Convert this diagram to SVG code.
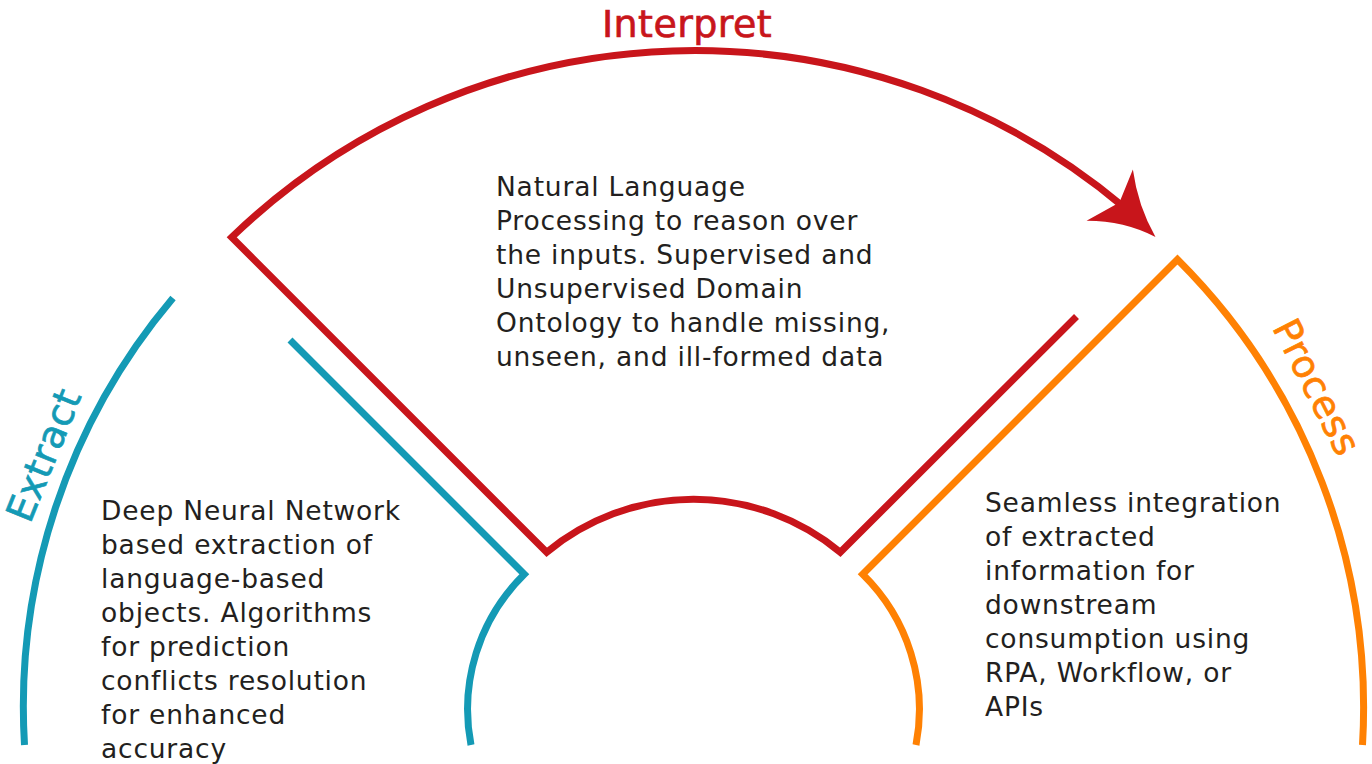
<svg xmlns="http://www.w3.org/2000/svg" width="1372" height="764" viewBox="0 0 1372 764">
<style>
.ln{fill:none;stroke-width:7;stroke-linejoin:miter;stroke-miterlimit:10}
.red{stroke:#C8151B}
.blue{stroke:#149AB5}
.orange{stroke:#FF8103}
.body{font-family:"DejaVu Sans","Noto Sans",sans-serif;font-size:26.5px;letter-spacing:0.8px;fill:#231F20}
.title{font-family:"DejaVu Sans","Noto Sans",sans-serif;font-size:38px;letter-spacing:0.4px;stroke-width:0.7px}
</style>
<rect width="1372" height="764" fill="#ffffff"/>
<g id="connectors">
  <path class="ln red" d="M1076.5,316.5 L840.3,552.3 A230,230 0 0 0 546.7,552.3 L231.7,237.3 A667,667 0 0 1 1125,208"/>
  <path fill="#C8151B" transform="translate(1155.5,237) rotate(43.8)" d="M0,0 Q-34,-10 -63,-33 L-50,0 L-61,36 Q-34,10 0,0 Z"/>
  <path class="ln blue" d="M24.5,745 A633.5,633.5 0 0 1 173,298"/>
  <path class="ln blue" d="M290,340 L524.3,574.3 A189,189 0 0 0 471,745"/>
  <path class="ln orange" d="M916,745 A189,189 0 0 0 862.7,574.3 L1177.5,259.5 A633.5,633.5 0 0 1 1362.5,745"/>
</g>
<g id="interpret">
  <text class="title" x="687" y="37" text-anchor="middle" fill="#C8151B" stroke="#C8151B">Interpret</text>
  <text class="body" x="496">
    <tspan x="496" y="196">Natural Language</tspan>
    <tspan x="496" y="230">Processing to reason over</tspan>
    <tspan x="496" y="264">the inputs. Supervised and</tspan>
    <tspan x="496" y="298">Unsupervised Domain</tspan>
    <tspan x="496" y="332">Ontology to handle missing,</tspan>
    <tspan x="496" y="366">unseen, and ill-formed data</tspan>
  </text>
</g>
<g id="extract">
  <text class="title" transform="translate(56,460) rotate(-68)" text-anchor="middle" fill="#149AB5" stroke="#149AB5">Extract</text>
  <text class="body">
    <tspan x="101" y="520">Deep Neural Network</tspan>
    <tspan x="101" y="554">based extraction of</tspan>
    <tspan x="101" y="588">language-based</tspan>
    <tspan x="101" y="622">objects. Algorithms</tspan>
    <tspan x="101" y="656">for prediction</tspan>
    <tspan x="101" y="690">conflicts resolution</tspan>
    <tspan x="101" y="724">for enhanced</tspan>
    <tspan x="101" y="758">accuracy</tspan>
  </text>
</g>
<g id="process">
  <text class="title" transform="translate(1305,393) rotate(63)" text-anchor="middle" fill="#FF8103" stroke="#FF8103">Process</text>
  <text class="body">
    <tspan x="985" y="512">Seamless integration</tspan>
    <tspan x="985" y="546">of extracted</tspan>
    <tspan x="985" y="580">information for</tspan>
    <tspan x="985" y="614">downstream</tspan>
    <tspan x="985" y="648">consumption using</tspan>
    <tspan x="985" y="682">RPA, Workflow, or</tspan>
    <tspan x="985" y="716">APIs</tspan>
  </text>
</g>
</svg>
